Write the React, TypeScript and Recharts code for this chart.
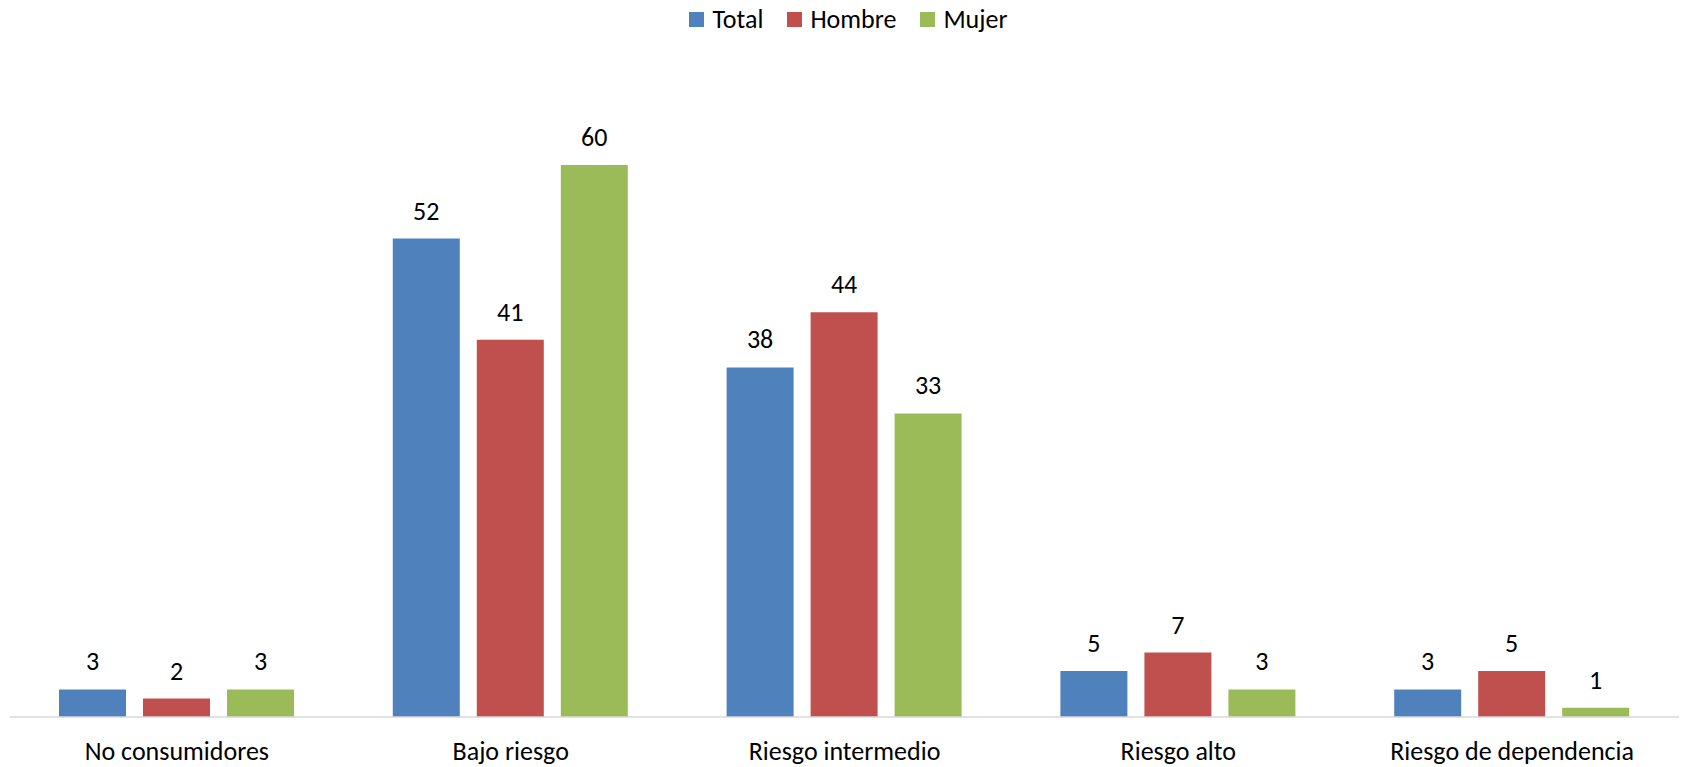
import React from 'react';
import { BarChart, Bar, XAxis, YAxis, Legend, LabelList } from 'recharts';

const categories = ['No consumidores', 'Bajo riesgo', 'Riesgo intermedio', 'Riesgo alto', 'Riesgo de dependencia'];
const total = [3, 52, 38, 5, 3];
const hombre = [2, 41, 44, 7, 5];
const mujer = [3, 60, 33, 3, 1];

const seriesNames = ['Total', 'Hombre', 'Mujer'];
const colors = ['#4F81BD', '#C0504D', '#9BBB59'];

const data = categories.map((c, i) => ({
  name: c,
  Total: total[i],
  Hombre: hombre[i],
  Mujer: mujer[i],
}));

const FONT = 'Carlito, Calibri, Lato, sans-serif';
const FS = 26;

const LegendContent = () => (
  <div style={{ height: 30, display: 'flex', justifyContent: 'center', alignItems: 'center', paddingLeft: 16, fontFamily: FONT, fontSize: FS, color: '#000' }}>
    {seriesNames.map((s, i) => (
      <div key={s} style={{ display: 'flex', alignItems: 'center', marginRight: i < seriesNames.length - 1 ? 24 : 0 }}>
        <span style={{ width: 15, height: 15, background: colors[i], display: 'inline-block', marginRight: 8 }} />
        <span>{s}</span>
      </div>
    ))}
  </div>
);

export default function App() {
  return (
    <div style={{ position: 'absolute', left: 0, top: 0, background: '#fff' }}>
      <BarChart
        width={1681}
        height={767}
        data={data}
        margin={{ top: 43, right: 2, bottom: 0, left: 10 }}
        barCategoryGap={49}
        barGap={17}
      >
        <Legend verticalAlign="top" content={<LegendContent />} wrapperStyle={{ top: 4, left: 0, width: 1681 }} />
        <XAxis
          dataKey="name"
          axisLine={{ stroke: '#D9D9D9', strokeWidth: 1.5 }}
          tickLine={false}
          tickSize={0}
          tickMargin={25}
          height={50}
          interval={0}
          tick={{ fill: '#000', fontSize: FS, fontFamily: FONT }}
        />
        <YAxis hide domain={[0, 70]} />
        {seriesNames.map((s, i) => (
          <Bar key={s} dataKey={s} fill={colors[i]} isAnimationActive={false}>
            <LabelList dataKey={s} position="top" offset={19} fill="#000" fontSize={FS} fontFamily={FONT} />
          </Bar>
        ))}
      </BarChart>
    </div>
  );
}
